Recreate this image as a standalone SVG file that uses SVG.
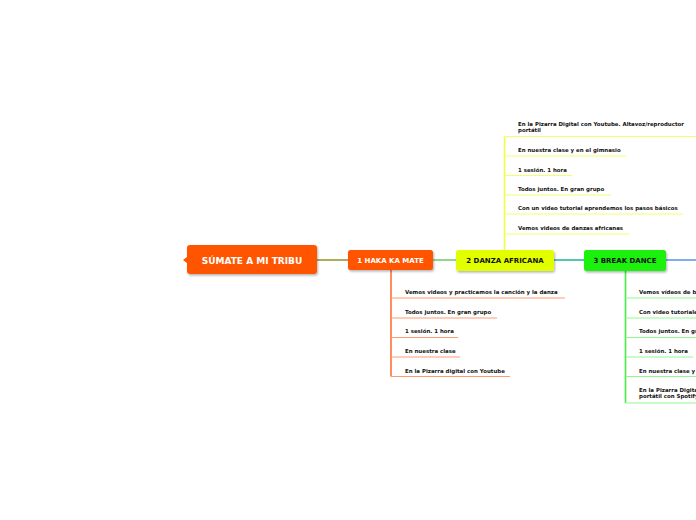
<svg xmlns="http://www.w3.org/2000/svg" width="696" height="520" viewBox="0 0 696 520">
<defs>
<filter id="sh" x="-20%" y="-30%" width="140%" height="170%">
<feDropShadow dx="1" dy="1.5" stdDeviation="1.2" flood-color="#000" flood-opacity="0.3"/>
</filter>
</defs>
<style>
.nt{font-family:"DejaVu Sans","Verdana",sans-serif;font-weight:bold;text-anchor:middle}
.st{font-family:"DejaVu Sans","Verdana",sans-serif;font-weight:bold;font-size:5.45px;fill:#111}
.ho{stroke:#ff9a70;stroke-width:1;fill:none}
.hv{stroke:#ff7038;stroke-width:1.6;fill:none}
.dy{stroke:#f0ff70;stroke-width:1;fill:none}
.dv{stroke:#eeff44;stroke-width:1.6;fill:none}
.bg{stroke:#90f890;stroke-width:1;fill:none}
.bv{stroke:#44ee44;stroke-width:1.6;fill:none}
</style>
<rect width="696" height="520" fill="#ffffff"/>
<g id="connectors">
<line x1="317" y1="260" x2="348" y2="260" stroke="#a8a248" stroke-width="1.8"/>
<line x1="433" y1="260" x2="456" y2="260" stroke="#80d480" stroke-width="1.8"/>
<line x1="554" y1="260" x2="584" y2="260" stroke="#40c0a8" stroke-width="1.8"/>
<line x1="666" y1="260" x2="696" y2="260" stroke="#6ea8e8" stroke-width="1.8"/>
<line class="hv" x1="391" y1="270" x2="391" y2="376.5"/>
<line class="dv" x1="504.5" y1="136.5" x2="504.5" y2="250"/>
<line class="bv" x1="625.5" y1="271" x2="625.5" y2="403"/>
</g>
<g id="main">
<path d="M187 257 L183 260 L187 263 Z" fill="#ff5500"/>
<rect x="187" y="245" width="130" height="29" rx="3" fill="#ff5500" filter="url(#sh)"/>
<text class="nt" x="252" y="263.5" font-size="9" fill="#ffffff">SÚMATE A MI TRIBU</text>
</g>
<g id="haka">
<rect x="348" y="250" width="85" height="20" rx="2.5" fill="#ff5500" filter="url(#sh)"/>
<text class="nt" x="390.5" y="262.5" font-size="7" fill="#ffffff">1 HAKA KA MATE</text>
</g>
<g id="danza">
<rect x="456" y="250" width="98" height="21" rx="2.5" fill="#e2ff00" filter="url(#sh)"/>
<text class="nt" x="505" y="263" font-size="7" fill="#111111">2 DANZA AFRICANA</text>
</g>
<g id="break">
<rect x="584" y="250" width="82" height="21" rx="2.5" fill="#1ef00e" filter="url(#sh)"/>
<text class="nt" x="625" y="263" font-size="7" fill="#111111">3 BREAK DANCE</text>
</g>
<g id="haka-items">
<text class="st" x="405" y="294">Vemos  videos y practicamos la canción y la danza</text>
<line class="ho" x1="391" y1="298" x2="565" y2="298"/>
<text class="st" x="405" y="314">Todos juntos. En gran grupo</text>
<line class="ho" x1="391" y1="318" x2="497" y2="318"/>
<text class="st" x="405" y="333">1 sesión. 1 hora</text>
<line class="ho" x1="391" y1="337.5" x2="458" y2="337.5"/>
<text class="st" x="405" y="353">En nuestra clase</text>
<line class="ho" x1="391" y1="357" x2="460" y2="357"/>
<text class="st" x="405" y="372.5">En la Pizarra digital con Youtube</text>
<line class="ho" x1="391" y1="376.5" x2="510" y2="376.5"/>
</g>
<g id="danza-items">
<text class="st" x="518" y="126">En la Pizarra Digital con Youtube. Altavoz/reproductor</text>
<text class="st" x="518" y="132">portátil</text>
<line class="dy" x1="504.5" y1="136.5" x2="696" y2="136.5"/>
<text class="st" x="518" y="152">En nuestra clase y en el gimnasio</text>
<line class="dy" x1="504.5" y1="156" x2="626" y2="156"/>
<text class="st" x="518" y="171.5">1 sesión. 1 hora</text>
<line class="dy" x1="504.5" y1="175.5" x2="572" y2="175.5"/>
<text class="st" x="518" y="191">Todos juntos. En gran grupo</text>
<line class="dy" x1="504.5" y1="195" x2="611" y2="195"/>
<text class="st" x="518" y="210">Con un video tutorial aprendemos los pasos básicos</text>
<line class="dy" x1="504.5" y1="214" x2="683" y2="214"/>
<text class="st" x="518" y="230">Vemos videos de danzas africanas</text>
<line class="dy" x1="504.5" y1="234" x2="629" y2="234"/>
</g>
<g id="break-items">
<text class="st" x="639" y="294">Vemos vídeos de break dance</text>
<line class="bg" x1="625.5" y1="298" x2="696" y2="298"/>
<text class="st" x="639" y="314">Con video tutoriales aprendemos los pasos</text>
<line class="bg" x1="625.5" y1="318" x2="696" y2="318"/>
<text class="st" x="639" y="333">Todos juntos. En gran grupo</text>
<line class="bg" x1="625.5" y1="337.5" x2="696" y2="337.5"/>
<text class="st" x="639" y="353">1 sesión. 1 hora</text>
<line class="bg" x1="625.5" y1="357" x2="693" y2="357"/>
<text class="st" x="639" y="372.5">En nuestra clase y en el gimnasio</text>
<line class="bg" x1="625.5" y1="376.5" x2="696" y2="376.5"/>
<text class="st" x="639" y="392">En la Pizarra Digital con Youtube. Altavoz/reproductor</text>
<text class="st" x="639" y="398">portátil con Spotify</text>
<line class="bg" x1="625.5" y1="403" x2="696" y2="403"/>
</g>
</svg>
